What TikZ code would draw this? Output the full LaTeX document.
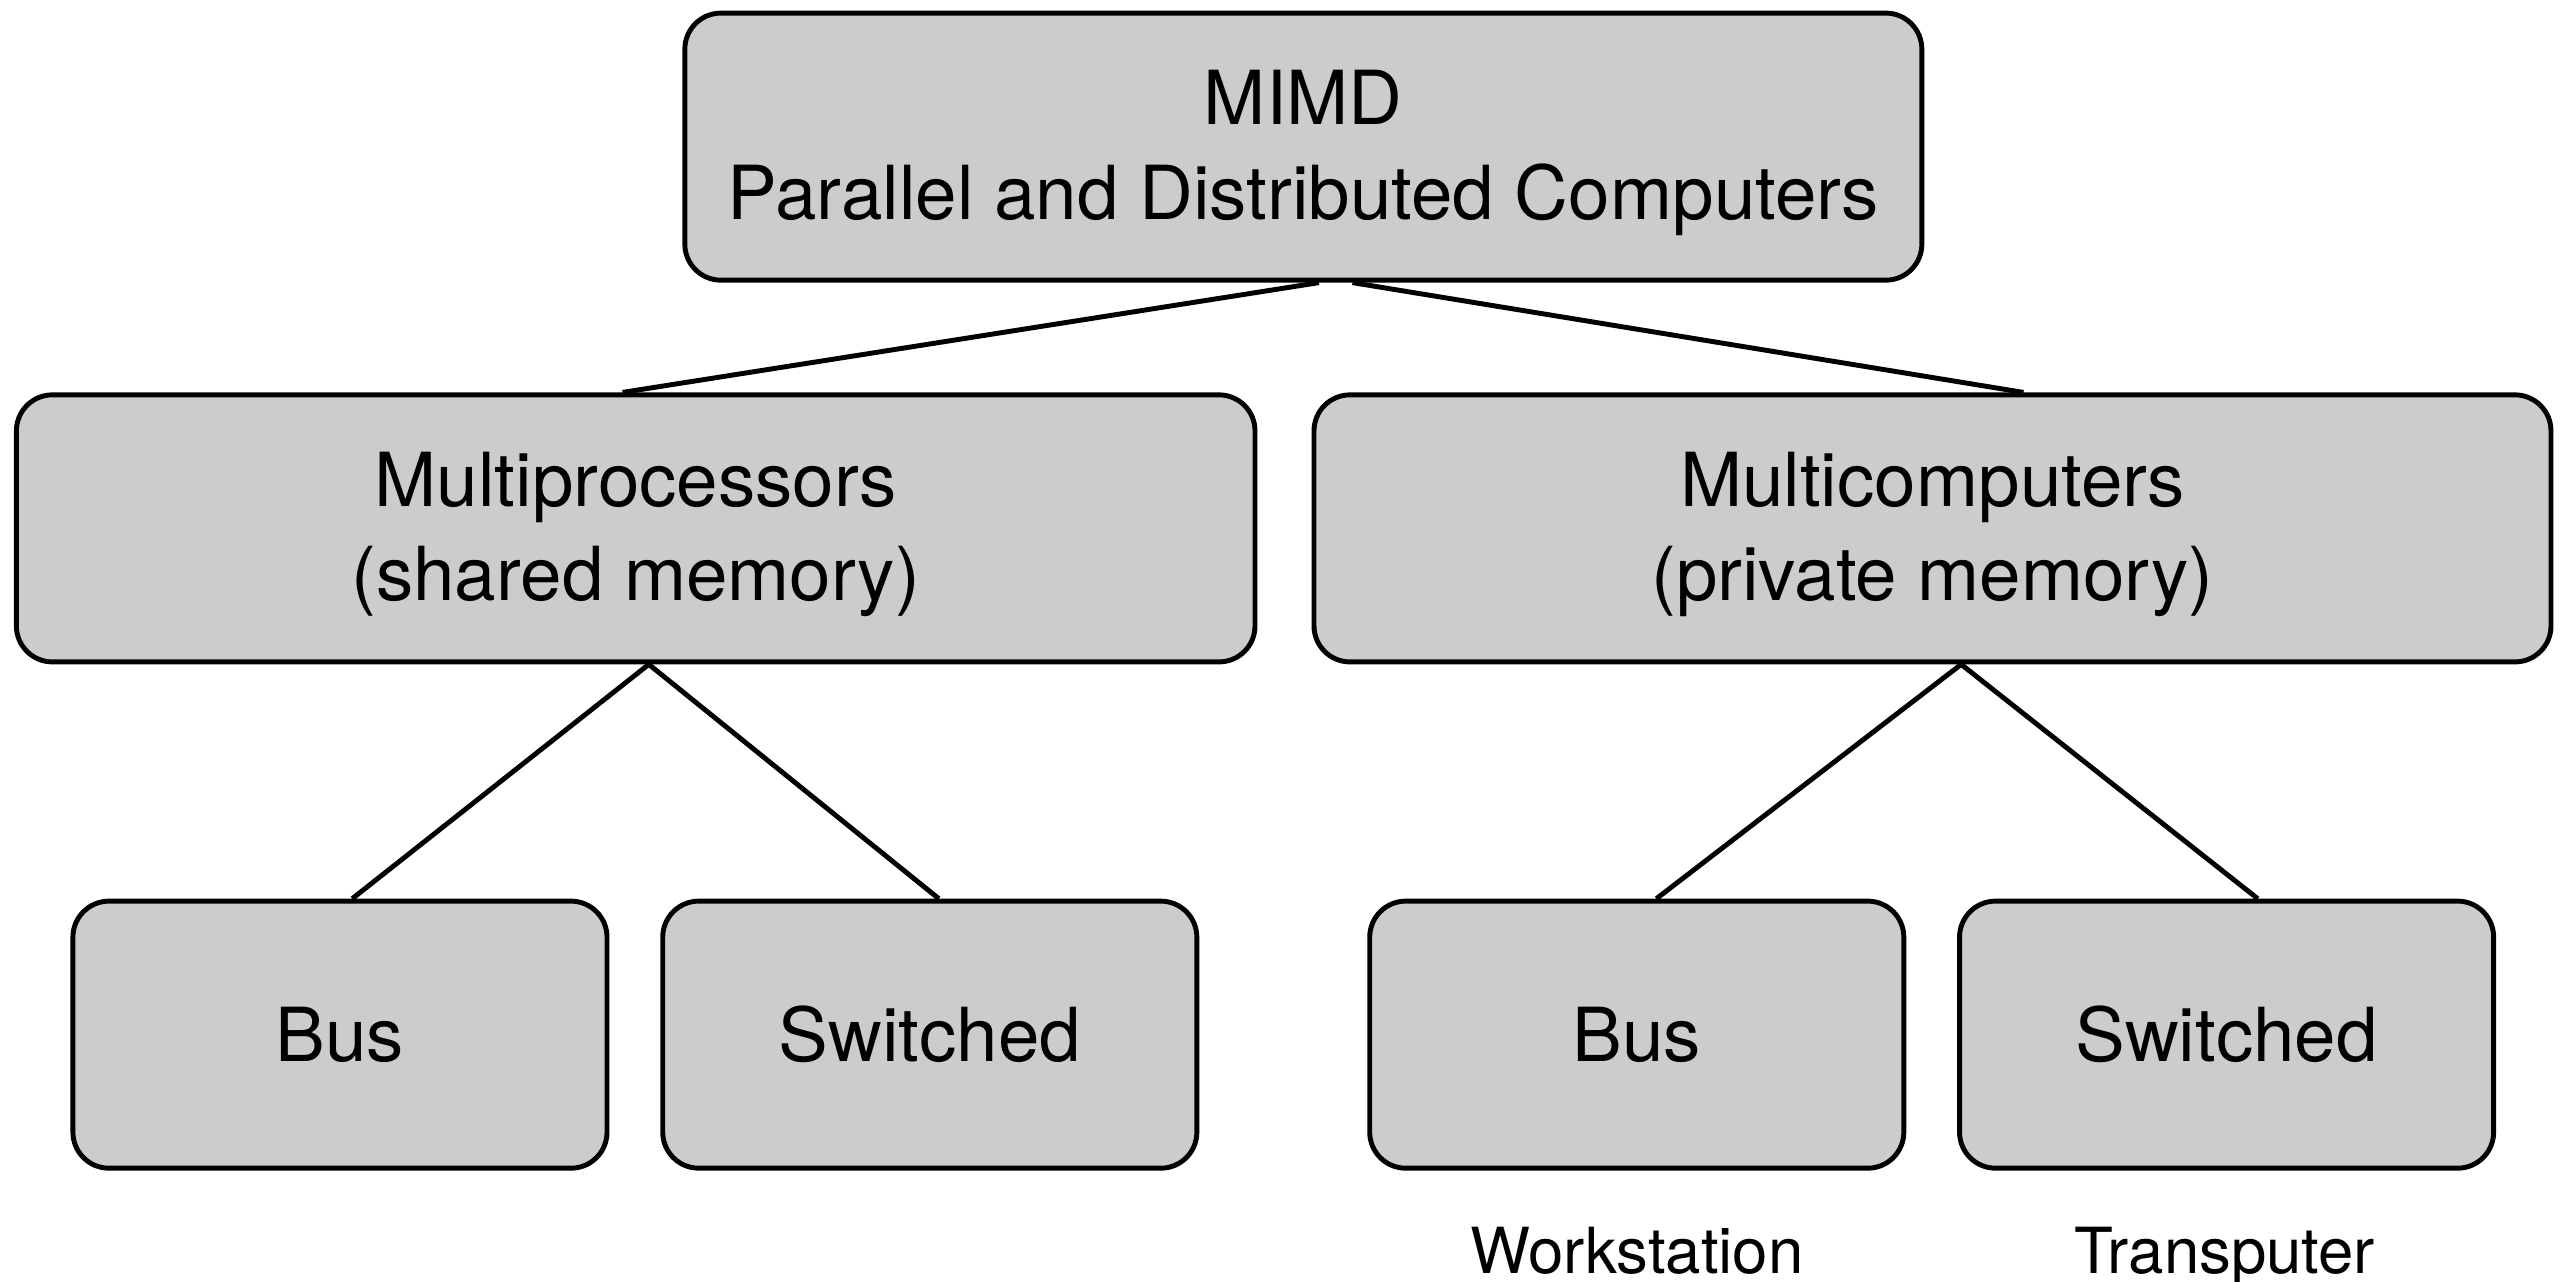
\documentclass[tikz,border=0pt]{standalone}
\usepackage{fontspec}
\setmainfont{TeX Gyre Heros}
\newcommand{\lowerfirst}{\rule{0pt}{41pt}}
\begin{document}
\begin{tikzpicture}[x=1pt,y=-1pt,
  box/.style={draw=black,line width=3pt,fill=boxgray,rounded corners=22pt,
    minimum width=#1,minimum height=163pt,inner sep=0pt,align=center,
    font=\fontsize{45.5}{57.5}\selectfont},
  box/.default=326pt,
  lbl/.style={inner sep=0pt,font=\fontsize{38.8}{46}\selectfont},
  link/.style={draw=black,line width=3pt}]
\definecolor{boxgray}{HTML}{CCCCCC}
\useasboundingbox (0,0) rectangle (1568,781.9);
\node[box=755pt] (top) at (795.5,89.5) {\lowerfirst MIMD\\Parallel and Distributed Computers};
\node[box=756pt] (mp) at (388,322.5) {\lowerfirst Multiprocessors\\(shared memory)};
\node[box=755pt] (mc) at (1179.5,322.5) {\lowerfirst Multicomputers\\(private memory)};
\node[box] (bus1) at (207.5,631.5) {Bus};
\node[box] (sw1) at (567.5,631.5) {Switched};
\node[box] (bus2) at (999,631.5) {Bus};
\node[box] (sw2) at (1359,631.5) {Switched};
\node[lbl,anchor=base] (ws) at (999,777) {Workstation};
\node[lbl,anchor=base] (tp) at (1358,777) {Transputer};
\draw[link] ([xshift=9.5pt]top.south) -- ([xshift=-8pt]mp.north);
\draw[link] ([xshift=30pt]top.south) -- ([xshift=55.5pt]mc.north);
\draw[link] ([xshift=8pt]mp.south) -- ([xshift=7.5pt]bus1.north);
\draw[link] ([xshift=8pt]mp.south) -- ([xshift=5.5pt]sw1.north);
\draw[link] ([xshift=17.5pt]mc.south) -- ([xshift=12pt]bus2.north);
\draw[link] ([xshift=17.5pt]mc.south) -- ([xshift=19pt]sw2.north);
\end{tikzpicture}
\end{document}
